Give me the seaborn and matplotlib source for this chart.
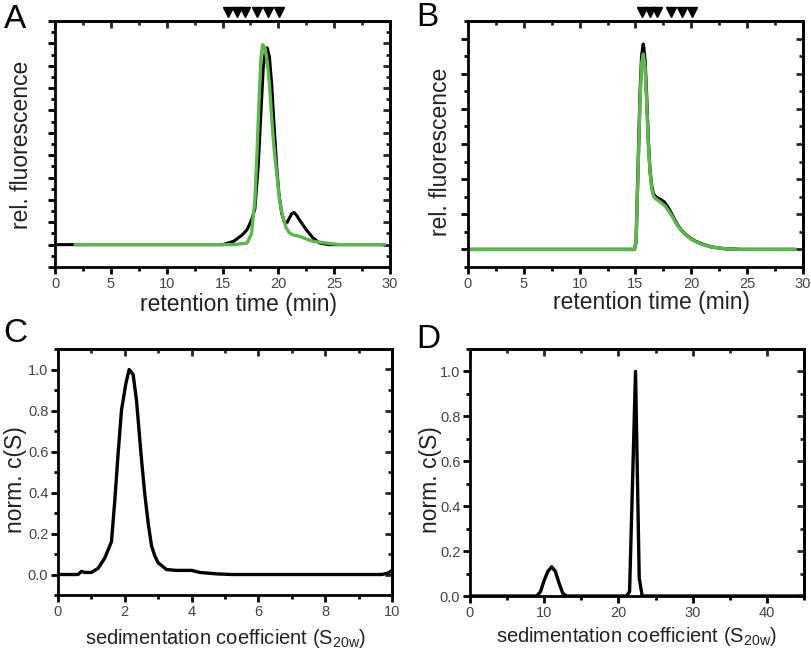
import numpy as np
import pandas as pd
import matplotlib
matplotlib.use("Agg")
import matplotlib.pyplot as plt
import matplotlib.transforms as mtransforms
from matplotlib.ticker import MultipleLocator
import seaborn as sns

# ---------------- data ----------------
# Panel A (SEC, retention time in min)
a_black_x = [0.0, 15.0, 16.0, 16.8, 17.2, 17.6, 17.9, 18.2, 18.4, 18.65, 18.85, 19.0, 19.2, 19.4,
             19.6, 19.85, 20.05, 20.3, 20.55, 20.8, 21.0, 21.2, 21.4, 21.65, 21.9, 22.5, 23.1,
             23.7, 24.5, 29.5]
a_black_y = [0.0, 0.0, 0.015, 0.045, 0.067, 0.11, 0.16, 0.35, 0.55, 0.79, 0.87, 0.88, 0.84, 0.72,
             0.55, 0.35, 0.23, 0.14, 0.10, 0.10, 0.12, 0.138, 0.144, 0.13, 0.11, 0.067, 0.03,
             0.007, 0.0, 0.0]
a_green_x = [1.8, 16.0, 17.2, 17.6, 17.9, 18.1, 18.3, 18.45, 18.6, 18.8, 19.0, 19.2, 19.4, 19.6,
             19.85, 20.1, 20.4, 20.7, 21.0, 21.4, 21.9, 22.5, 23.1, 24.3, 25.5, 29.5]
a_green_y = [0.0, 0.0, 0.007, 0.05, 0.2, 0.42, 0.68, 0.84, 0.894, 0.88, 0.82, 0.72, 0.57, 0.44,
             0.32, 0.2, 0.126, 0.075, 0.052, 0.042, 0.037, 0.025, 0.015, 0.007, 0.0, 0.0]

# Panel B
b_black_x = [0.2, 14.9, 15.05, 15.2, 15.4, 15.55, 15.7, 15.85, 16.0, 16.15, 16.3, 16.45, 16.6,
             16.8, 17.0, 17.3, 17.6, 17.9, 18.2, 18.5, 18.8, 19.1, 19.4, 19.7, 20.0, 20.4,
             20.9, 21.8, 23.0, 24.5, 29.3]
b_black_y = [0.0, 0.0, 0.2, 2.0, 4.33, 5.5, 5.84, 5.4, 4.33, 3.1, 2.24, 1.8, 1.58, 1.5, 1.46,
             1.41, 1.34, 1.2, 1.03, 0.85, 0.68, 0.55, 0.45, 0.37, 0.30, 0.23, 0.16, 0.07, 0.02,
             0.0, 0.0]
b_green_x = [0.2, 14.9, 15.05, 15.2, 15.4, 15.55, 15.7, 15.85, 16.0, 16.15, 16.3, 16.45, 16.6,
             16.8, 17.0, 17.3, 17.6, 17.9, 18.2, 18.5, 18.8, 19.1, 19.4, 19.7, 20.0, 20.4,
             20.9, 21.8, 23.0, 24.5, 29.3]
b_green_y = [0.0, 0.0, 0.2, 1.9, 4.2, 5.3, 5.56, 5.2, 4.2, 3.0, 2.2, 1.75, 1.52, 1.44, 1.40,
             1.33, 1.25, 1.13, 0.98, 0.82, 0.66, 0.54, 0.44, 0.36, 0.29, 0.22, 0.15, 0.07, 0.02,
             0.0, 0.0]

# Size-standard markers (retention times, min)
markers_a = [15.5, 16.3, 17.0, 18.1, 19.1, 20.1]
markers_b = [15.6, 16.3, 16.9, 18.2, 19.2, 20.1]

# Panel C (sedimentation coefficient distribution)
c_x = [0.0, 0.6, 0.7, 0.8, 1.0, 1.2, 1.4, 1.6, 1.7, 1.8, 1.9, 2.03, 2.13, 2.25, 2.35, 2.5, 2.6,
       2.7, 2.8, 2.9, 3.0, 3.25, 3.55, 4.0, 4.25, 4.75, 5.2, 9.7, 9.9, 10.0]
c_y = [0.0, 0.0, 0.015, 0.01, 0.01, 0.03, 0.08, 0.16, 0.36, 0.59, 0.8, 0.93, 1.0, 0.975, 0.85,
       0.56, 0.39, 0.25, 0.14, 0.09, 0.057, 0.024, 0.02, 0.02, 0.01, 0.003, 0.0, 0.0, 0.008, 0.02]

# Panel D
d_x = [0.0, 9.0, 9.5, 10.0, 10.5, 11.0, 11.5, 12.0, 12.5, 13.0, 21.1, 21.5, 22.3, 22.8, 23.2, 45.0]
d_y = [0.0, 0.0, 0.02, 0.07, 0.11, 0.13, 0.11, 0.057, 0.012, 0.0, 0.0, 0.02, 1.0, 0.08, 0.0, 0.0]

GREEN = "#5cb84a"
BLACK = "#000000"

sns.set_theme(style="white")
plt.rcParams["font.family"] = ["Liberation Sans", "DejaVu Sans"]
plt.rcParams["mathtext.fontset"] = "custom"
plt.rcParams["mathtext.rm"] = "Liberation Sans"
plt.rcParams["mathtext.it"] = "Liberation Sans:italic"

TICKFONT = ["Liberation Sans Narrow", "Liberation Sans", "DejaVu Sans"]

W, H = 811, 654
fig = plt.figure(figsize=(W / 100, H / 100), dpi=100)


def px_axes(l, t, r, b):
    return fig.add_axes([l / W, 1 - b / H, (r - l) / W, (b - t) / H])


axA = px_axes(55, 21, 390, 267)
axB = px_axes(468, 21, 803, 267)
axC = px_axes(58, 349, 392, 595)
axD = px_axes(470, 349, 804, 596)


def style(ax, xmaj, xmin, ymaj, ymin, ylabels=True):
    for s in ax.spines.values():
        s.set_linewidth(2.0)
        s.set_color("black")
        s.set_visible(True)
    ax.xaxis.set_major_locator(MultipleLocator(xmaj))
    ax.xaxis.set_minor_locator(MultipleLocator(xmin))
    ax.yaxis.set_major_locator(MultipleLocator(ymaj))
    ax.yaxis.set_minor_locator(MultipleLocator(ymin))
    ax.tick_params(axis="both", which="major", direction="out", length=5, width=2,
                   color="black", labelsize=10.5, labelcolor="#444444", pad=2,
                   bottom=True, left=True, top=False, right=False)
    ax.tick_params(axis="both", which="minor", direction="out", length=3, width=2,
                   color="black", bottom=True, left=True, top=False, right=False)
    if not ylabels:
        ax.tick_params(axis="y", which="both", labelleft=False)
    # mirrored inward ticks on top and right
    sx = ax.secondary_xaxis("top")
    sx.xaxis.set_major_locator(MultipleLocator(xmaj))
    sx.xaxis.set_minor_locator(MultipleLocator(xmin))
    sx.tick_params(which="major", direction="in", length=5, width=2, labeltop=False)
    sx.tick_params(which="minor", direction="in", length=3, width=2)
    sx.spines["top"].set_linewidth(2.0)
    sy = ax.secondary_yaxis("right")
    sy.yaxis.set_major_locator(MultipleLocator(ymaj))
    sy.yaxis.set_minor_locator(MultipleLocator(ymin))
    sy.tick_params(which="major", direction="in", length=5, width=2, labelright=False)
    sy.tick_params(which="minor", direction="in", length=3, width=2)
    sy.spines["right"].set_linewidth(2.0)


# ---- Panel A ----
sns.lineplot(x=a_black_x, y=a_black_y, ax=axA, color=BLACK, lw=2.2, estimator=None, sort=False)
sns.lineplot(x=a_green_x, y=a_green_y, ax=axA, color=GREEN, lw=2.4, estimator=None, sort=False)
axA.set_xlim(0, 30)
axA.set_ylim(-0.1, 1.0)
style(axA, 5, 2.5, 0.1, 0.05, ylabels=False)

# ---- Panel B ----
sns.lineplot(x=b_black_x, y=b_black_y, ax=axB, color=BLACK, lw=2.4, estimator=None, sort=False)
sns.lineplot(x=b_green_x, y=b_green_y, ax=axB, color=GREEN, lw=2.4, estimator=None, sort=False)
axB.set_xlim(0, 30)
axB.set_ylim(-0.5, 6.5)
style(axB, 5, 2.5, 1, 0.5, ylabels=False)

# markers above A and B
for ax, mk in ((axA, markers_a), (axB, markers_b)):
    tr = mtransforms.blended_transform_factory(ax.transData, ax.transAxes)
    ax.plot(mk, [1.035] * len(mk), linestyle="none", marker="v", markersize=6.5,
            color="black", transform=tr, clip_on=False)

# ---- Panel C ----
sns.lineplot(x=c_x, y=c_y, ax=axC, color=BLACK, lw=2.4, estimator=None, sort=False)
axC.set_xlim(0, 10)
axC.set_ylim(-0.1, 1.1)
style(axC, 2, 1, 0.2, 0.1)
axC.set_yticks([0.0, 0.2, 0.4, 0.6, 0.8, 1.0])
axC.set_yticklabels(["0.0", "0.2", "0.4", "0.6", "0.8", "1.0"])

# ---- Panel D ----
sns.lineplot(x=d_x, y=d_y, ax=axD, color=BLACK, lw=2.4, estimator=None, sort=False)
axD.set_xlim(0, 45)
axD.set_ylim(0, 1.1)
style(axD, 10, 5, 0.2, 0.1)
axD.set_yticks([0.0, 0.2, 0.4, 0.6, 0.8, 1.0])
axD.set_yticklabels(["0.0", "0.2", "0.4", "0.6", "0.8", "1.0"])

for ax in (axA, axB, axC, axD):
    for lab in ax.get_xticklabels() + ax.get_yticklabels():
        lab.set_fontfamily(TICKFONT)

LAB_COL = "#222222"
sed_label = r"sedimentation coefficient (S$_{\mathregular{20w}}$)"

axA.set_xlabel("retention time (min)", fontsize=16.5, color=LAB_COL)
axB.set_xlabel("retention time (min)", fontsize=16.5, color=LAB_COL)
axA.set_ylabel("rel. fluorescence", fontsize=16.5, color=LAB_COL)
axB.set_ylabel("rel. fluorescence", fontsize=16.5, color=LAB_COL)
axC.set_xlabel(sed_label, fontsize=14.5, color=LAB_COL)
axD.set_xlabel(sed_label, fontsize=14.5, color=LAB_COL)
axC.set_ylabel("norm. c(S)", fontsize=16.5, color=LAB_COL)
axD.set_ylabel("norm. c(S)", fontsize=16.5, color=LAB_COL)


def set_label_px(ax, lab_axis, cx, cy, box):
    l, t, r, b = box
    fx = (cx - l) / (r - l)
    fy = (b - cy) / (b - t)
    if lab_axis == "x":
        ax.xaxis.set_label_coords(fx, fy)
        ax.xaxis.label.set_va("center")
    else:
        ax.yaxis.set_label_coords(fx, fy)
        ax.yaxis.label.set_va("center")


set_label_px(axA, "x", 239, 305, (55, 21, 390, 267))
set_label_px(axB, "x", 652, 303, (468, 21, 803, 267))
set_label_px(axC, "x", 226, 639, (58, 349, 392, 595))
set_label_px(axD, "x", 637, 637, (470, 349, 804, 596))
set_label_px(axA, "y", 22, 145, (55, 21, 390, 267))
set_label_px(axB, "y", 441, 152, (468, 21, 803, 267))
set_label_px(axC, "y", 16, 480, (58, 349, 392, 595))
set_label_px(axD, "y", 430, 480, (470, 349, 804, 596))

for letter, (cx, cy) in zip("ABCD", [(15, 19), (427, 17), (15, 334), (428, 339)]):
    fig.text(cx / W, 1 - cy / H, letter, fontsize=24, ha="center", va="center", color="black")

fig.savefig("out.png", dpi=100)
